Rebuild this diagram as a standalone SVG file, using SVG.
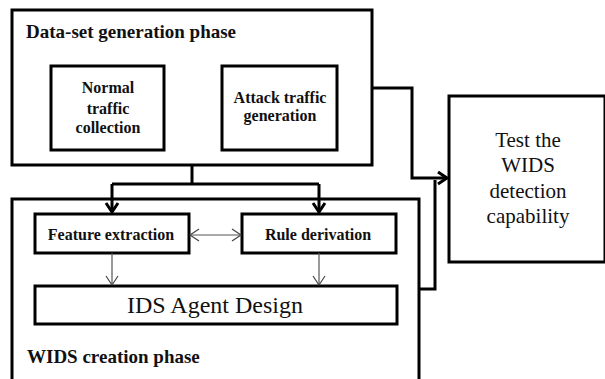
<svg xmlns="http://www.w3.org/2000/svg" width="605" height="379" viewBox="0 0 605 379">
<defs>
<marker id="thick" markerUnits="userSpaceOnUse" markerWidth="16" markerHeight="16" refX="12" refY="8" orient="auto">
<path d="M3,2 L12,8 L3,14" fill="none" stroke="#000" stroke-width="3"/>
</marker>
<marker id="thin" markerUnits="userSpaceOnUse" markerWidth="12" markerHeight="14" refX="10" refY="7" orient="auto-start-reverse">
<path d="M1,1 L10,7 L1,13" fill="none" stroke="#444" stroke-width="1.2"/>
</marker>
</defs>
<style>
.box{fill:#fff;stroke:#000;stroke-width:3}
.b{font-weight:bold;fill:#111}
.r{fill:#111}
.th{fill:none;stroke:#000;stroke-width:3}
.tn{fill:none;stroke:#555;stroke-width:1.2}
</style>
<g font-family="Liberation Serif, DejaVu Serif, serif">
<g id="wids-phase">
<path class="th" d="M12,379 L12,199 L419,199 L419,379"/>
<text class="b" x="27" y="363" font-size="19">WIDS creation phase</text>
</g>
<g id="dataset-phase">
<rect class="box" x="12" y="10" width="360" height="155"/>
<text class="b" x="26" y="38" font-size="19">Data-set generation phase</text>
</g>
<g id="normal">
<rect class="box" x="51" y="66" width="113" height="84"/>
<text class="b" font-size="16" text-anchor="middle"><tspan x="108" y="93">Normal</tspan><tspan x="108" y="114">traffic</tspan><tspan x="108" y="133">collection</tspan></text>
</g>
<g id="attack">
<rect class="box" x="222" y="66" width="115" height="84"/>
<text class="b" font-size="16" text-anchor="middle"><tspan x="280" y="103">Attack traffic</tspan><tspan x="280" y="121">generation</tspan></text>
</g>
<g id="feature">
<rect class="box" x="35" y="214" width="154" height="39"/>
<text class="b" x="111" y="240" font-size="16" text-anchor="middle">Feature extraction</text>
</g>
<g id="rule">
<rect class="box" x="242" y="214" width="154" height="39"/>
<text class="b" x="318" y="240" font-size="16" text-anchor="middle">Rule derivation</text>
</g>
<g id="ids">
<rect class="box" x="35" y="286" width="362" height="38"/>
<text class="r" x="215" y="313" font-size="24" text-anchor="middle">IDS Agent Design</text>
</g>
<g id="test">
<rect class="box" x="449" y="96" width="156" height="166"/>
<text class="r" font-size="21" text-anchor="middle"><tspan x="528" y="147">Test the</tspan><tspan x="528" y="172">WIDS</tspan><tspan x="528" y="198">detection</tspan><tspan x="528" y="223">capability</tspan></text>
</g>
</g>
<g id="connectors">
<path class="th" d="M192,165 L192,184"/>
<path class="th" d="M112,184 L319,184"/>
<path class="th" d="M112,184 L112,212" marker-end="url(#thick)"/>
<path class="th" d="M319,184 L319,212" marker-end="url(#thick)"/>
<path class="th" d="M372,88 L412,88 L412,178 L447,178" marker-end="url(#thick)"/>
<path class="th" d="M419,289 L435,289 L435,180"/>
<path class="tn" d="M190,235 L241,235" marker-start="url(#thin)" marker-end="url(#thin)"/>
<path class="tn" d="M112,253 L112,285" marker-end="url(#thin)"/>
<path class="tn" d="M319,253 L319,285" marker-end="url(#thin)"/>
</g>
</svg>
